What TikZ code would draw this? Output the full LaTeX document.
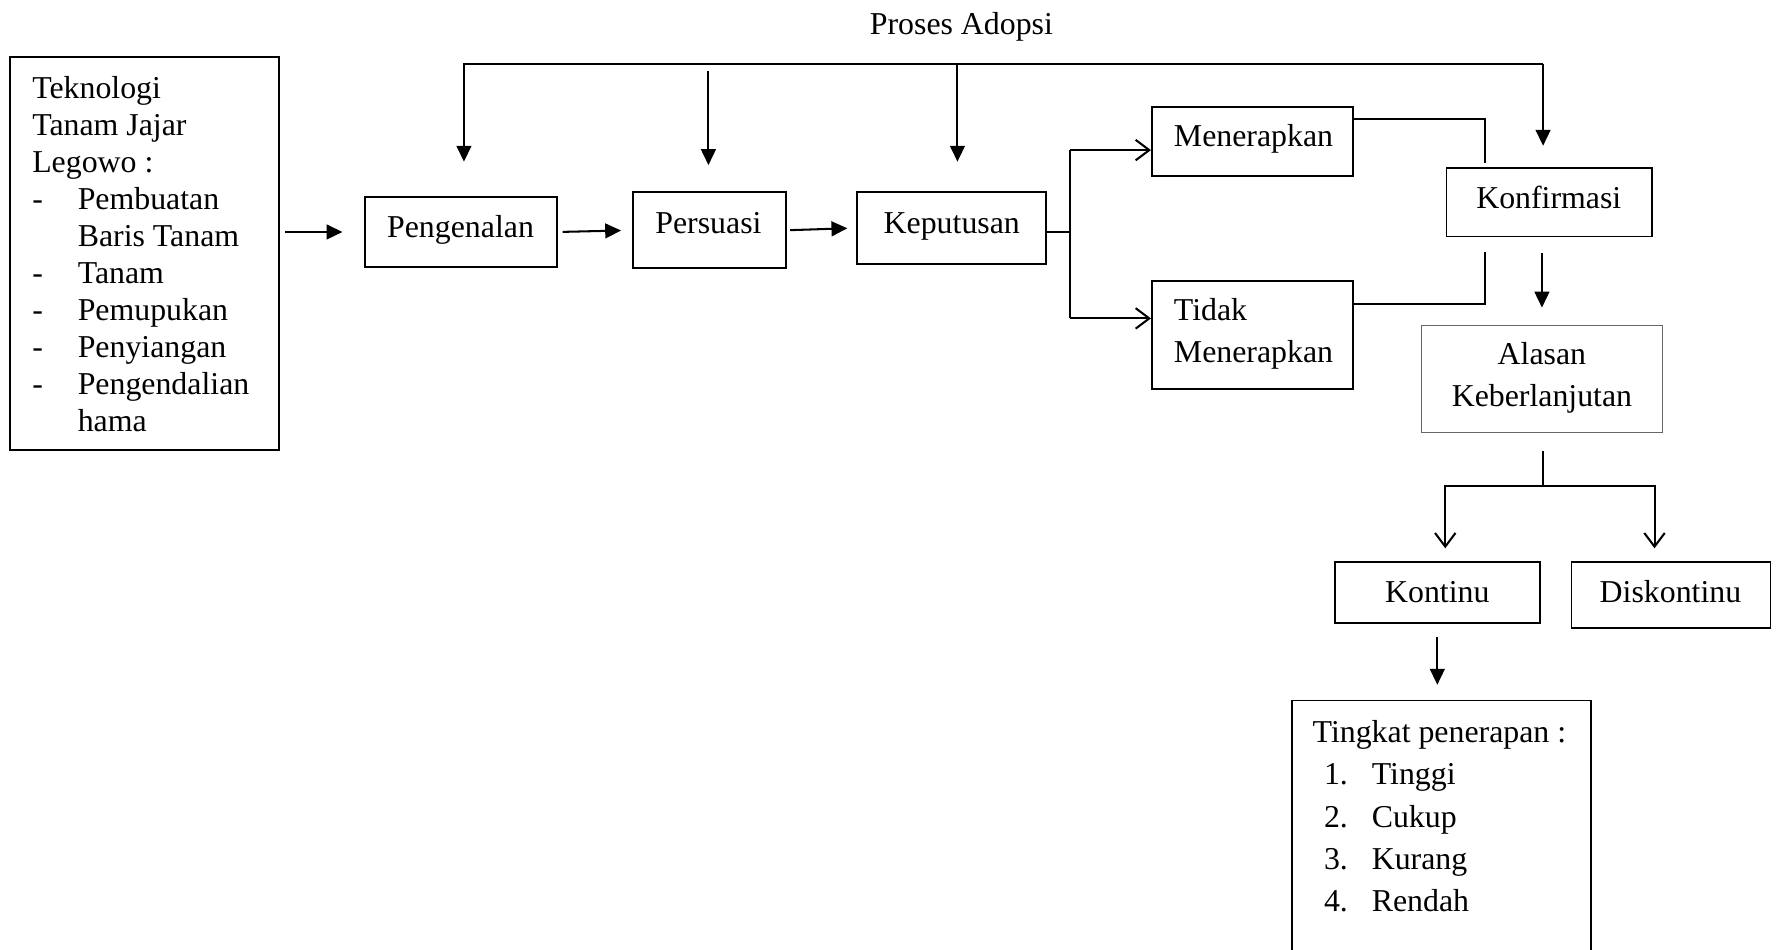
\documentclass[tikz,border=0pt]{standalone}
\usepackage{fontspec}
\setmainfont{Liberation Serif}
\usetikzlibrary{arrows.meta}
\begin{document}
\begin{tikzpicture}[x=0.5pt,y=-0.5pt,
  box/.style={draw, line width=0.8pt, inner sep=0pt},
  txt/.style={inner sep=0pt, font=\fontsize{14}{16.3}\selectfont},
  ln/.style={line width=0.9pt},
  farr/.style={ln, -{Triangle[length=7pt,width=6.5pt]}},
  oarr/.style={ln, -{Straight Barb[length=6pt,width=9pt,line width=0.9pt]}},
]
\useasboundingbox (0,0) rectangle (1568,835);
\clip (0,0) rectangle (1568,835);

% boxes
\node[box, minimum width=118pt, minimum height=173pt] (tek) at (127,223) {};
\node[box, minimum width=84.5pt, minimum height=31pt] (pen) at (405.5,204) {};
\node[box, minimum width=67pt, minimum height=33.5pt] (per) at (624,202.5) {};
\node[box, minimum width=83pt, minimum height=31.5pt] (kep) at (837,200.5) {};
\node[box, minimum width=88.5pt, minimum height=30.5pt] (men) at (1101.5,124.5) {};
\node[box, minimum width=88.5pt, minimum height=47.5pt] (tid) at (1101.5,294.5) {};
\node[box, minimum width=90.5pt, minimum height=30pt] (kon) at (1362.5,178) {};
\node[box, draw=black!60, line width=0.5pt, minimum width=106pt, minimum height=47pt] (ala) at (1356,333) {};
\node[box, minimum width=90pt, minimum height=27pt] (kontinu) at (1264,521) {};
\node[box, minimum width=87.5pt, minimum height=29pt] (disk) at (1469.5,523) {};
\node[box, minimum width=131.5pt, minimum height=127pt] (ting) at (1267.5,743) {};

% texts
\node[txt, anchor=mid] (title) at (845.5,26) {Proses Adopsi};
\node[txt, anchor=north west] (tektxt) at (28,63) {%
\begin{tabular}{@{}p{20pt}@{}l@{}}
\multicolumn{2}{@{}l@{}}{Teknologi}\\
\multicolumn{2}{@{}l@{}}{Tanam Jajar}\\
\multicolumn{2}{@{}l@{}}{Legowo :}\\
- & Pembuatan\\
 & Baris Tanam\\
- & Tanam\\
- & Pemupukan\\
- & Penyiangan\\
- & Pengendalian\\
 & hama
\end{tabular}};
\node[txt, anchor=mid] (pentxt) at (405,204) {Pengenalan};
\node[txt, anchor=mid] (pertxt) at (623,201) {Persuasi};
\node[txt, anchor=mid] (keptxt) at (837,201) {Keputusan};
\node[txt, anchor=mid west] (mentxt) at (1032,124) {Menerapkan};
\node[txt, anchor=mid west] (tidtxt1) at (1032,277) {Tidak};
\node[txt, anchor=mid west] (tidtxt2) at (1032,314) {Menerapkan};
\node[txt, anchor=mid] (kontxt) at (1362,179) {Konfirmasi};
\node[txt, anchor=mid] (alatxt1) at (1356,316) {Alasan};
\node[txt, anchor=mid] (alatxt2) at (1356,353) {Keberlanjutan};
\node[txt, anchor=mid] (kontinutxt) at (1264,525) {Kontinu};
\node[txt, anchor=mid] (disktxt) at (1469,525) {Diskontinu};
\node[txt, font=\fontsize{14}{18.5}\selectfont, anchor=north west] (tingtxt) at (1154,627) {%
\begin{tabular}{@{}p{5pt}@{}p{21pt}@{}l@{}}
\multicolumn{3}{@{}l@{}}{Tingkat penerapan :}\\
 & 1. & Tinggi\\
 & 2. & Cukup\\
 & 3. & Kurang\\
 & 4. & Rendah
\end{tabular}};

% coordinates
\coordinate (a1) at (408,56);
\coordinate (a2s) at (623,62);
\coordinate (a3) at (842,56);
\coordinate (a4) at (1357,56);
\coordinate (j0) at (941,204);
\coordinate (j1) at (941,132);
\coordinate (j2) at (941,280);
\coordinate (k1) at (1306,105);
\coordinate (k2) at (1306,267);
\coordinate (sp) at (1357,427);
\coordinate (sl) at (1271,427);
\coordinate (sr) at (1455,427);

% connectors
\draw[farr, shorten >=15pt] (a4) -- (a1) -- (a1 |- pen.north);
\draw[farr, shorten >=11.5pt] (a2s) -- (a2s |- per.north);
\draw[farr, shorten >=13pt] (a3) -- (a3 |- kep.north);
\draw[farr, shorten >=9.5pt] (a4) -- (a4 |- kon.north);

\draw[farr, shorten <=2.5pt, shorten >=9.5pt] (tek.east |- pen.west) -- (pen.west);
\draw[farr, shorten <=2pt, shorten >=5pt] (pen.east) -- (per.west);
\draw[farr, shorten <=1.5pt, shorten >=4pt] (per.east) -- (kep.west);

\draw[ln] (kep.east |- j0) -- (j0);
\draw[ln] (j1) -- (j2);
\draw[oarr] (j1) -- (j1 -| men.west);
\draw[oarr] (j2) -- (j2 -| tid.west);

\draw[ln, shorten >=2pt] (men.east |- k1) -| (k1 |- kon.north);
\draw[ln, shorten >=6.5pt] (tid.east |- k2) -| (k2 |- kon.south);

\draw[farr, shorten <=7pt, shorten >=7.5pt] (kon.south -| ala.north) -- (ala.north);

\draw[ln, shorten <=8pt] (ala.south -| sp) -- (sp);
\draw[oarr, shorten >=5.5pt] (sp) -- (sl) -- (sl |- kontinu.north);
\draw[oarr, shorten >=5.5pt] (sp) -- (sr) -- (sr |- disk.north);

\draw[farr, shorten <=5.5pt, shorten >=6.5pt] (kontinu.south) -- (kontinu.south |- ting.north);
\end{tikzpicture}
\end{document}
